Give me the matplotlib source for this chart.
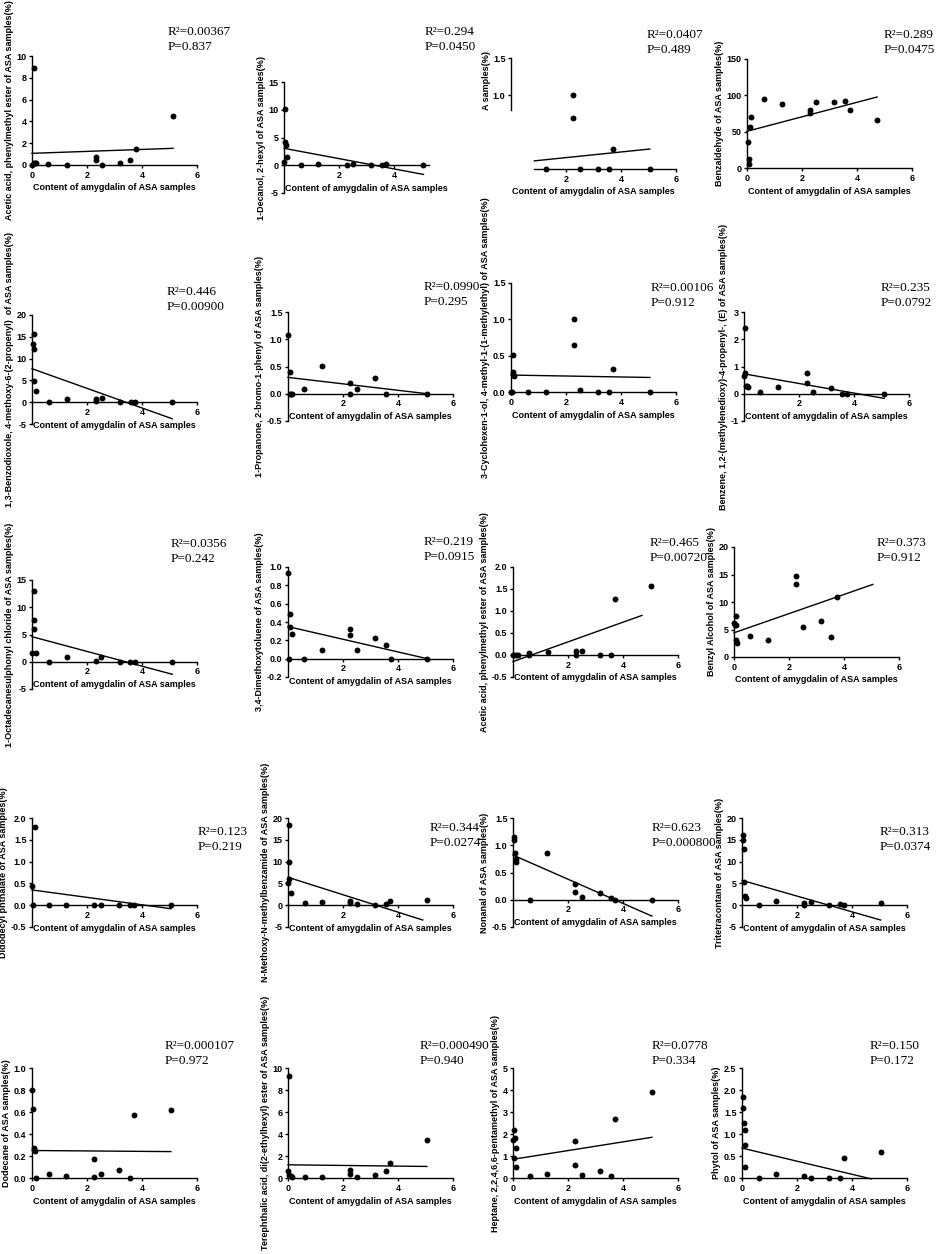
import matplotlib
matplotlib.use("Agg")
import matplotlib.pyplot as plt
from matplotlib.ticker import FormatStrFormatter, FixedLocator

plt.rcParams['axes.unicode_minus'] = False
plt.rcParams['font.family'] = ['Liberation Sans', 'DejaVu Sans']

# ---------------- data ----------------
LABELS = [
    "Acetic acid, phenylmethyl ester of ASA samples(%)",
    "1-Decanol, 2-hexyl of ASA samples(%)",
    "A samples(%)",
    "Benzaldehyde of ASA samples(%)",
    "1,3-Benzodioxole, 4-methoxy-6-(2-propenyl)  of ASA samples(%)",
    "1-Propanone, 2-bromo-1-phenyl of ASA samples(%)",
    "3-Cyclohexen-1-ol, 4-methyl-1-(1-methylethyl) of ASA samples(%)",
    "Benzene, 1,2-(methylenedioxy)-4-propenyl-, (E) of ASA samples(%)",
    "1-Octadecanesulphonyl chloride of ASA samples(%)",
    "3,4-Dimethoxytoluene of ASA samples(%)",
    "Acetic acid, phenylmethyl ester of ASA samples(%)",
    "Benzyl Alcohol of ASA samples(%)",
    "Didodecyl phthalate of ASA samples(%)",
    "N-Methoxy-N-methylbenzamide of ASA samples(%)",
    "Nonanal of ASA samples(%)",
    "Tritetracontane of ASA samples(%)",
    "Dodecane of ASA samples(%)",
    "Terephthalic acid, di(2-ethylhexyl) ester of ASA samples(%)",
    "Heptane, 2,2,4,6,6-pentamethyl of ASA samples(%)",
    "Phytol of ASA samples(%)",
]
XLABEL = "Content of amygdalin of ASA samples"

R2 = ["0.00367", "0.294", "0.0407", "0.289", "0.446", "0.0990", "0.00106", "0.235",
      "0.0356", "0.219", "0.465", "0.373", "0.123", "0.344", "0.623", "0.313",
      "0.000107", "0.000490", "0.0778", "0.150"]
PVAL = ["0.837", "0.0450", "0.489", "0.0475", "0.00900", "0.295", "0.912", "0.0792",
        "0.242", "0.0915", "0.00720", "0.912", "0.219", "0.0274", "0.000800", "0.0374",
        "0.972", "0.940", "0.334", "0.172"]

x1 = [0.06, 0.0, 0.06, 0.12, 0.16, 0.59, 1.26, 2.31, 2.31, 2.54, 3.19, 3.58, 3.77, 5.13]
y1 = [8.87, 0.0, 0.15, 0.2, 0.15, 0.1, 0.0, 0.7, 0.46, 0.0, 0.2, 0.43, 1.44, 4.5]
x2 = [0.0, 0.05, 0.05, 0.08, 0.12, 0.6, 1.25, 2.28, 2.5, 3.15, 3.55, 3.72, 5.07]
y2 = [0.5, 10.1, 4.1, 3.7, 1.4, 0.0, 0.3, 0.0, 0.3, 0.0, 0.0, 0.2, 0.0]
x3 = [1.27, 2.27, 2.27, 2.51, 3.15, 3.55, 3.72, 5.05]
y3 = [0.0, 1.0, 0.69, 0.0, 0.0, 0.0, 0.27, 0.0]
x4 = [0.02, 0.08, 0.08, 0.1, 0.16, 0.6, 1.27, 2.3, 2.3, 2.52, 3.18, 3.58, 3.73, 4.73]
y4 = [35.8, 12.4, 5.5, 56.9, 70.6, 95.0, 88.5, 79.8, 75.7, 90.4, 91.3, 91.7, 79.4, 66.0]
x5 = [0.02, 0.08, 0.08, 0.08, 0.15, 0.6, 1.28, 2.31, 2.31, 2.54, 3.19, 3.59, 3.76, 5.1]
y5 = [13.3, 15.6, 12.2, 4.9, 2.5, 0.0, 0.76, 0.76, 0.2, 0.9, 0.0, 0.0, 0.0, 0.0]
x6 = [0.0, 0.09, 0.06, 0.12, 0.16, 0.58, 1.25, 2.27, 2.27, 2.52, 3.16, 3.56, 5.07]
y6 = [1.07, 0.39, 0.0, 0.0, 0.0, 0.09, 0.51, 0.2, 0.0, 0.09, 0.29, 0.0, 0.0]
x7 = [0.0, 0.05, 0.06, 0.08, 0.12, 0.6, 1.27, 2.28, 2.28, 2.51, 3.18, 3.56, 3.72, 5.05]
y7 = [0.0, 0.0, 0.51, 0.28, 0.22, 0.0, 0.0, 1.0, 0.64, 0.03, 0.0, 0.0, 0.32, 0.0]
x8 = [0.05, 0.0, 0.02, 0.06, 0.11, 0.15, 0.58, 1.25, 2.29, 2.29, 2.51, 3.17, 3.57, 3.76, 5.1]
y8 = [2.43, 0.66, 0.76, 0.29, 0.27, 0.23, 0.06, 0.26, 0.76, 0.39, 0.05, 0.2, 0.0, 0.0, 0.0]
x9 = [0.06, 0.06, 0.06, 0.0, 0.15, 0.6, 1.28, 2.31, 2.52, 3.19, 3.58, 3.76, 5.1]
y9 = [12.97, 7.65, 6.1, 1.65, 1.65, 0.0, 0.92, 0.18, 0.86, 0.0, 0.0, 0.0, 0.0]
x10 = [0.01, 0.07, 0.07, 0.13, 0.05, 0.57, 1.24, 2.27, 2.27, 2.52, 3.15, 3.55, 3.73, 5.06]
y10 = [0.93, 0.49, 0.35, 0.27, 0.0, 0.0, 0.1, 0.32, 0.26, 0.1, 0.23, 0.15, 0.0, 0.0]
x11 = [0.0, 0.05, 0.11, 0.17, 0.59, 0.59, 1.26, 2.28, 2.28, 2.51, 3.15, 3.55, 3.72, 5.02]
y11 = [0.0, 0.0, 0.0, 0.0, 0.05, 0.0, 0.06, 0.08, 0.0, 0.08, 0.0, 0.0, 1.28, 1.57]
x12 = [0.0, 0.06, 0.08, 0.02, 0.06, 0.12, 0.58, 1.25, 2.27, 2.27, 2.51, 3.15, 3.54, 3.73]
y12 = [6.2, 7.45, 5.8, 5.9, 3.17, 2.56, 3.78, 3.05, 14.8, 13.2, 5.37, 6.6, 3.66, 11.0]
x13 = [0.0, 0.1, 0.05, 0.6, 1.25, 2.27, 2.5, 3.15, 3.55, 3.72, 5.05]
y13 = [0.45, 1.8, 0.0, 0.0, 0.0, 0.0, 0.0, 0.0, 0.0, 0.0, 0.0]
x14 = [0.05, 0.05, 0.05, 0.0, 0.1, 0.6, 1.25, 2.27, 2.27, 2.5, 3.15, 3.55, 3.72, 5.05]
y14 = [18.5, 10.0, 6.0, 5.0, 2.7, 0.5, 0.7, 1.0, 0.6, 0.3, 0.1, 0.3, 1.0, 1.1]
x15 = [0.05, 0.05, 0.08, 0.1, 0.1, 0.6, 1.25, 2.27, 2.27, 2.5, 3.15, 3.55, 3.72, 5.05]
y15 = [1.15, 1.1, 0.85, 0.75, 0.7, 0.0, 0.85, 0.28, 0.15, 0.05, 0.12, 0.03, 0.0, 0.0]
x16 = [0.05, 0.05, 0.08, 0.08, 0.1, 0.15, 0.6, 1.25, 2.27, 2.27, 2.5, 3.15, 3.55, 3.72, 5.05]
y16 = [16.0, 15.0, 12.8, 5.3, 2.0, 1.7, 0.0, 1.0, 0.0, 0.5, 0.8, 0.0, 0.3, 0.0, 0.5]
x17 = [0.0, 0.05, 0.08, 0.1, 0.15, 0.6, 1.25, 2.27, 2.27, 2.5, 3.15, 3.55, 3.72, 5.05]
y17 = [0.8, 0.63, 0.27, 0.25, 0.0, 0.04, 0.02, 0.17, 0.01, 0.04, 0.07, 0.0, 0.57, 0.62]
x18 = [0.05, 0.0, 0.05, 0.1, 0.15, 0.6, 1.25, 2.27, 2.27, 2.5, 3.15, 3.55, 3.72, 5.05]
y18 = [9.3, 0.6, 0.3, 0.2, 0.1, 0.1, 0.05, 0.7, 0.4, 0.1, 0.25, 0.6, 1.35, 3.5]
x19 = [0.05, 0.0, 0.08, 0.1, 0.05, 0.12, 0.6, 1.25, 2.27, 2.27, 2.5, 3.15, 3.55, 3.72, 5.05]
y19 = [2.2, 1.75, 1.8, 1.35, 0.9, 0.5, 0.1, 0.2, 1.7, 0.6, 0.15, 0.3, 0.1, 2.7, 3.9]
x20 = [0.05, 0.05, 0.08, 0.1, 0.1, 0.12, 0.6, 1.25, 2.27, 2.5, 3.15, 3.55, 3.72, 5.05]
y20 = [1.84, 1.6, 1.25, 1.1, 0.75, 0.25, 0.0, 0.1, 0.05, 0.0, 0.0, 0.0, 0.45, 0.6]

XS = [x1, x2, x3, x4, x5, x6, x7, x8, x9, x10, x11, x12, x13, x14, x15, x16, x17, x18, x19, x20]
YS = [y1, y2, y3, y4, y5, y6, y7, y8, y9, y10, y11, y12, y13, y14, y15, y16, y17, y18, y19, y20]

# fitted line: x start, x end, y at start, y at end
LINE_X0 = [0, 0, 0.85, 0, 0, 0, 0, 0, 0, 0, 0, 0, 0, 0, 0, 0, 0, 0, 0, 0]
LINE_X1 = [5.13, 5.07, 5.05, 4.73, 5.1, 5.07, 5.05, 5.1, 5.1, 5.06, 4.69, 5.05,
           5.05, 4.9, 5.05, 5.04, 5.05, 5.05, 5.05, 4.7]
LINE_Y0 = [1.07, 3.05, 0.11, 50.5, 7.68, 0.3, 0.233, 0.73, 4.6, 0.35, -0.15, 4.4,
           0.35, 6.4, 0.82, 5.7, 0.25, 1.2, 0.85, 0.68]
LINE_Y1 = [1.53, -1.65, 0.27, 97.7, -3.8, 0.0, 0.2, -0.17, -2.3, 0.0, 0.9, 13.2,
           -0.08, -3.4, -0.3, -3.4, 0.24, 1.05, 1.85, -0.02]

YLIM = [(0, 10), (-5, 15), (0, 1.5), (0, 150), (-5, 20), (-0.5, 1.5), (0, 1.5), (-1, 3),
        (-5, 15), (-0.2, 1.0), (-0.5, 2.0), (0, 20), (-0.5, 2.0), (-5, 20), (-0.5, 1.5), (-5, 20),
        (0, 1.0), (0, 10), (0, 5), (0, 2.5)]
YSTEP = [2, 5, 0.5, 50, 5, 0.5, 0.5, 1, 5, 0.2, 0.5, 5, 0.5, 5, 0.5, 5, 0.2, 2, 1, 0.5]

# ---------------- layout (pixels) ----------------
W, H = 941, 1254
# left (x=0), top (ymax), bottom (ymin)
POS = [(32, 56, 165), (284, 82, 193), (511, 58, 169), (747, 59, 168),
       (32, 315, 424), (288, 312, 421), (511, 283, 392), (744, 312, 421),
       (32, 580, 689), (288, 567, 677), (513, 567, 677), (734, 547, 657),
       (32, 818, 927), (288, 818, 927), (513, 818, 927), (742, 818, 927),
       (32, 1068, 1178), (288, 1068, 1178), (513, 1068, 1178), (742, 1068, 1178)]
XW = 165  # pixels for x from 0 to 6
TXT = [(168, 32), (425, 32), (647, 35), (884, 35),
       (167, 292), (424, 287), (651, 288), (881, 288),
       (171, 544), (424, 542), (650, 543), (877, 543),
       (198, 832), (430, 828), (652, 828), (880, 832),
       (165, 1046), (420, 1046), (652, 1046), (870, 1046)]

fig = plt.figure(figsize=(W / 100, H / 100), dpi=100)

FS = 6.5
for i in range(20):
    left, top, bot = POS[i]
    ax = fig.add_axes([left / W, 1 - bot / H, XW / W, (bot - top) / H])
    ax.set_xlim(0, 6)
    ylo, yhi = YLIM[i]
    ax.set_ylim(ylo, yhi)
    for s in ('top', 'right'):
        ax.spines[s].set_visible(False)
    ax.spines['left'].set_linewidth(1.0)
    ax.spines['bottom'].set_linewidth(1.0)
    ax.spines['bottom'].set_position(('data', 0))
    ax.patch.set_alpha(0)

    step = YSTEP[i]
    n = int(round((yhi - ylo) / step))
    yt = [ylo + k * step for k in range(n + 1)]
    xt = [0, 2, 4, 6] if ylo >= 0 else [2, 4, 6]
    if i == 1:
        ax.spines['bottom'].set_bounds(0, 5.27)
        xt = [2, 4]
    if i == 2:
        ax.spines['bottom'].set_bounds(0.85, 6)
        ax.spines['left'].set_bounds(0.8, 1.5)
        yt = [1.0, 1.5]
        xt = [2, 4, 6]
    ax.yaxis.set_major_locator(FixedLocator(yt))
    ax.xaxis.set_major_locator(FixedLocator(xt))
    if isinstance(step, float):
        ax.yaxis.set_major_formatter(FormatStrFormatter('%.1f'))
    else:
        ax.yaxis.set_major_formatter(FormatStrFormatter('%d'))
    ax.tick_params(direction='out', length=2.5, width=1.0, pad=1.5,
                   labelsize=FS)
    for lab in ax.get_xticklabels() + ax.get_yticklabels():
        lab.set_fontweight('bold')

    ax.scatter(XS[i], YS[i], s=18, color='black', zorder=5, clip_on=False,
               linewidths=0)
    ax.plot([LINE_X0[i], LINE_X1[i]], [LINE_Y0[i], LINE_Y1[i]], color='black',
            lw=1.0, clip_on=False, zorder=4)

    ax.annotate(XLABEL, xy=(3, 0), xycoords='data', xytext=(0, -23),
                textcoords='offset pixels', ha='center', va='center',
                fontsize=FS, fontweight='bold', annotation_clip=False)
    if i == 2:
        fig.text(486 / W, 1 - 81 / H, LABELS[i], rotation=90, ha='center',
                 va='center', fontsize=FS, fontweight='bold')
    else:
        ax.set_ylabel(LABELS[i], fontsize=FS, fontweight='bold', labelpad=2)

    tx, ty = TXT[i]
    fig.text(tx / W, 1 - ty / H, "R\u00b2=" + R2[i], ha='left', va='center',
             fontsize=9.5, family=['Liberation Serif', 'DejaVu Serif'])
    fig.text(tx / W, 1 - (ty + 15) / H, "P=" + PVAL[i], ha='left', va='center',
             fontsize=9.5, family=['Liberation Serif', 'DejaVu Serif'])

fig.savefig("out.png", dpi=100)
